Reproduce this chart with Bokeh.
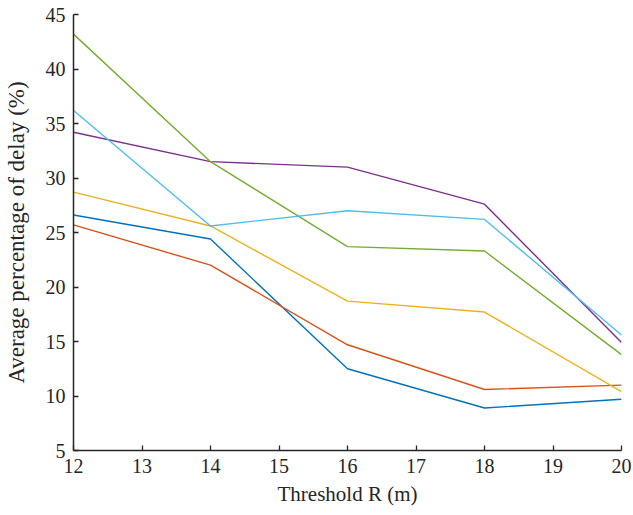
from bokeh.plotting import figure
from bokeh.models import Range1d, FixedTicker
from bokeh.embed import file_html
from bokeh.resources import INLINE

# Data
thresholds = [12, 14, 16, 18, 20]
series_blue = [26.6, 24.4, 12.5, 8.9, 9.7]
series_red = [25.7, 22.0, 14.7, 10.6, 11.0]
series_yellow = [28.7, 25.6, 18.7, 17.7, 10.4]
series_purple = [34.2, 31.5, 31.0, 27.6, 14.9]
series_green = [43.2, 31.5, 23.7, 23.3, 13.8]
series_cyan = [36.2, 25.6, 27.0, 26.2, 15.6]

x_ticks = [12, 13, 14, 15, 16, 17, 18, 19, 20]
y_ticks = [5, 10, 15, 20, 25, 30, 35, 40, 45]
x_title = "Threshold R (m)"
y_title = "Average percentage of delay (%)"

series = [
    (series_blue, "#0072BD"),
    (series_red, "#D95319"),
    (series_yellow, "#EDB120"),
    (series_purple, "#7E2F8E"),
    (series_green, "#77AC30"),
    (series_cyan, "#4DBEEE"),
]

FONT = "Liberation Serif"
TXT = "#262626"

p = figure(width=633, height=515, output_backend="svg", toolbar_location=None,
           x_range=Range1d(12, 20), y_range=Range1d(5, 45),
           min_border_left=69, min_border_right=12, min_border_top=14,
           min_border_bottom=65)
p.outline_line_color = None
p.grid.visible = False
p.background_fill_color = "white"
p.border_fill_color = "white"

for ys, c in series:
    p.line(thresholds, ys, line_color=c, line_width=1.4)

p.axis.axis_line_color = TXT
p.axis.axis_line_width = 1.5
p.axis.major_tick_line_color = TXT
p.axis.major_tick_line_width = 1.3
p.axis.major_tick_in = 5
p.axis.major_tick_out = 0
p.axis.minor_tick_line_color = None
p.axis.major_label_text_font = FONT
p.axis.major_label_text_font_size = "20px"
p.axis.major_label_text_color = TXT
p.axis.major_label_standoff = 8
p.axis.axis_label_text_font = FONT
p.axis.axis_label_text_font_style = "normal"
p.axis.axis_label_text_color = TXT

p.xaxis.ticker = FixedTicker(ticks=x_ticks)
p.yaxis.ticker = FixedTicker(ticks=y_ticks)

p.xaxis.axis_label = x_title
p.xaxis.axis_label_text_font_size = "21px"
p.xaxis.axis_label_standoff = 6
p.yaxis.axis_label = y_title
p.yaxis.axis_label_text_font_size = "23px"
p.yaxis.axis_label_standoff = 14

open("out.html", "w").write(file_html(p, INLINE))
